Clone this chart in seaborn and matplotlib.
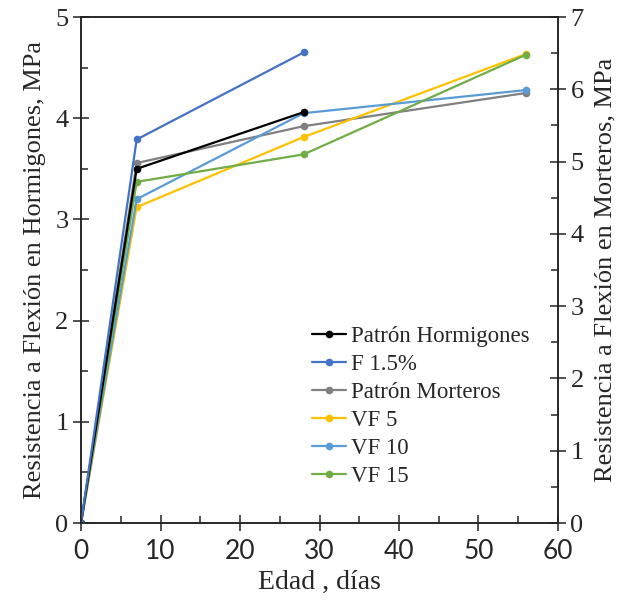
import matplotlib
matplotlib.use("Agg")
import matplotlib.pyplot as plt
from matplotlib.ticker import MultipleLocator
import seaborn as sns
import pandas as pd

# Ages (days) and flexural strength values (MPa)
dias_hormigon = [0, 7, 28]
patron_hormigones = [0, 3.50, 4.06]
f_15 = [0, 3.79, 4.65]

dias_mortero = [0, 7, 28, 56]
patron_morteros = [0, 4.98, 5.49, 5.95]
vf_5 = [0, 4.37, 5.34, 6.49]
vf_10 = [0, 4.48, 5.67, 5.99]
vf_15 = [0, 4.72, 5.10, 6.48]

series_hormigon = ["Patrón Hormigones", "F 1.5%"]
series_mortero = ["Patrón Morteros", "VF 5", "VF 10", "VF 15"]
colores = {
    "Patrón Hormigones": "#000000",
    "F 1.5%": "#4472C4",
    "Patrón Morteros": "#808080",
    "VF 5": "#FFC000",
    "VF 10": "#5B9BD5",
    "VF 15": "#70AD47",
}

df_h = pd.DataFrame({
    "Edad": dias_hormigon * 2,
    "Resistencia": patron_hormigones + f_15,
    "Serie": [series_hormigon[0]] * 3 + [series_hormigon[1]] * 3,
})
df_m = pd.DataFrame({
    "Edad": dias_mortero * 4,
    "Resistencia": patron_morteros + vf_5 + vf_10 + vf_15,
    "Serie": sum([[s] * 4 for s in series_mortero], []),
})

sns.set_style("ticks")
plt.rcParams["font.family"] = "serif"
plt.rcParams["font.serif"] = ["Liberation Serif", "Times New Roman", "DejaVu Serif"]
plt.rcParams["axes.linewidth"] = 1.1

SERIF = ["Liberation Serif", "DejaVu Serif"]
SANS = ["Lato", "DejaVu Sans"]

fig = plt.figure(figsize=(6.3, 6.09), dpi=100)
ax = fig.add_axes([0.1286, 0.1412, 0.7571, 0.8308])
ax2 = ax.twinx()

line_kw = dict(marker="o", markersize=5.5, linewidth=1.6, markeredgewidth=0,
               estimator=None, sort=False, legend=False)
sns.lineplot(data=df_h, x="Edad", y="Resistencia", hue="Serie",
             hue_order=series_hormigon, palette=colores, ax=ax, **line_kw)
sns.lineplot(data=df_m, x="Edad", y="Resistencia", hue="Serie",
             hue_order=series_mortero, palette=colores, ax=ax2, **line_kw)

ax.set_xlim(0, 60)
ax.set_ylim(0, 5)
ax2.set_ylim(0, 7)
ax.xaxis.set_major_locator(MultipleLocator(10))
ax.xaxis.set_minor_locator(MultipleLocator(5))
ax.yaxis.set_major_locator(MultipleLocator(1))
ax.yaxis.set_minor_locator(MultipleLocator(0.5))
ax2.yaxis.set_major_locator(MultipleLocator(1))
ax2.yaxis.set_minor_locator(MultipleLocator(0.5))

for a in (ax, ax2):
    a.tick_params(which="major", direction="inout", length=11, width=1.1,
                  labelsize=19, color="#222222")
    a.tick_params(which="minor", direction="in", length=5, width=1.1,
                  color="#222222")
    for s in a.spines.values():
        s.set_color("#222222")
ax.tick_params(axis="x", which="major", pad=6)

fig.canvas.draw()
for lab in ax.get_xticklabels():
    lab.set_fontfamily(SANS)
    lab.set_fontsize(19)
for lab in ax.get_yticklabels() + ax2.get_yticklabels():
    lab.set_fontfamily(SERIF)

ax.set_xlabel("Edad , días", fontsize=20, labelpad=4, family=SERIF)
ax.set_ylabel("Resistencia a Flexión en Hormigones, MPa", fontsize=19,
              labelpad=7, family=SERIF)
ax2.set_ylabel("Resistencia a Flexión en Morteros, MPa", fontsize=19,
               labelpad=8, family=SERIF)

handles = []
for a in (ax, ax2):
    handles += a.get_lines()
labels = series_hormigon + series_mortero
leg = ax.legend(handles, labels, loc="lower left", bbox_to_anchor=(0.45, 0.04),
                frameon=False, prop={"family": SERIF, "size": 16.5},
                handlelength=1.5, handletextpad=0.2,
                labelspacing=0.3, borderaxespad=0.3)
ax.set_zorder(ax2.get_zorder() + 1)
ax.patch.set_visible(False)

fig.savefig("out.png", dpi=100)
